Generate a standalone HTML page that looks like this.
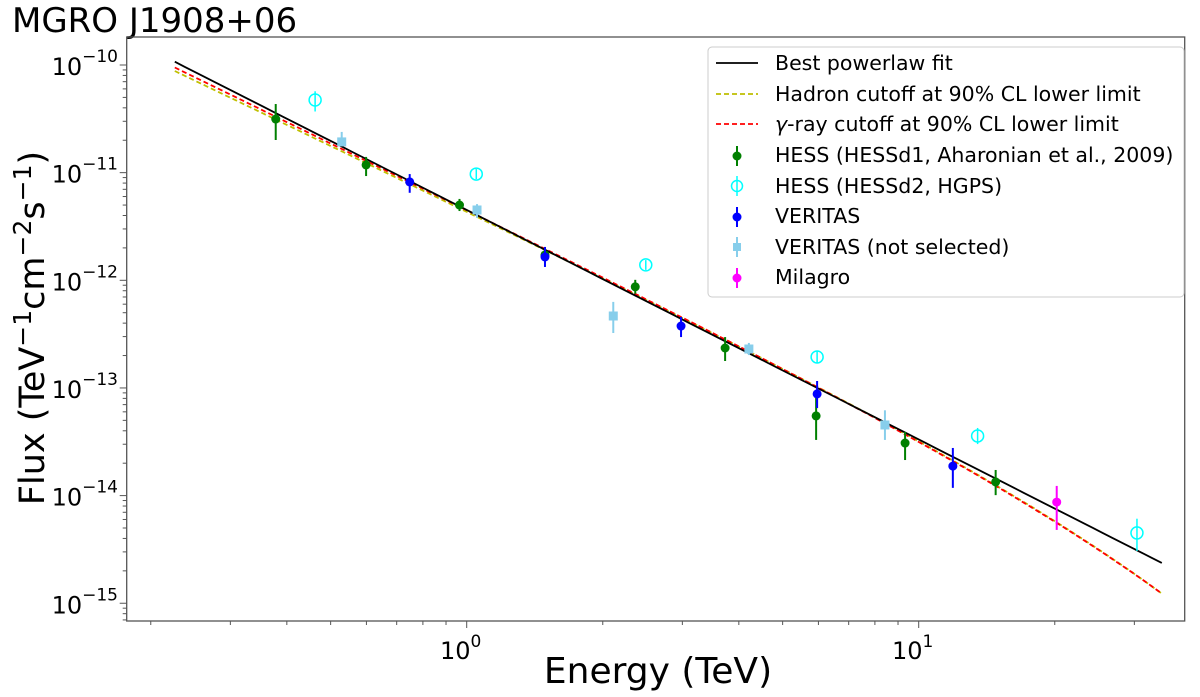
<!DOCTYPE html>
<html><head><meta charset="utf-8"><style>
body{margin:0;background:#fff;}
svg{display:block;font-family:"DejaVu Sans","Liberation Sans",sans-serif;}
</style></head><body>
<svg id="chart" width="1200" height="697" viewBox="0 0 1200 697" xmlns="http://www.w3.org/2000/svg">
<text x="12" y="32" font-size="34">MGRO J1908+06</text>
<rect x="126.7" y="37" width="1058" height="584" fill="none" stroke="#555" stroke-width="1.3"/>
<g id="ticks"></g>
<g id="lines"></g>
<g id="points"></g>
<text x="658" y="683" font-size="36" text-anchor="middle">Energy (TeV)</text>
<text transform="translate(44,328) rotate(-90)" font-size="35" text-anchor="middle">Flux (TeV<tspan dy="-13" font-size="25">−1</tspan><tspan dy="13">cm</tspan><tspan dy="-13" font-size="25">−2</tspan><tspan dy="13">s</tspan><tspan dy="-13" font-size="25">−1</tspan><tspan dy="13">)</tspan></text>
<g>
<rect x="708" y="47" width="476" height="250" rx="4" fill="#fff" fill-opacity="0.85" stroke="#ccc"/>
<line x1="716" y1="63" x2="758" y2="63" stroke="#000" stroke-width="1.8"/>
<text x="775" y="70" font-size="20.5">Best powerlaw fit</text>
<line x1="716" y1="94" x2="758" y2="94" stroke="#bfbf00" stroke-width="1.8" stroke-dasharray="5,3"/>
<text x="775" y="101" font-size="20.5">Hadron cutoff at 90% CL lower limit</text>
<line x1="716" y1="124" x2="758" y2="124" stroke="#ff0000" stroke-width="1.8" stroke-dasharray="5,3"/>
<text x="775" y="131" font-size="20.5"><tspan font-style="italic">γ</tspan>-ray cutoff at 90% CL lower limit</text>
<line x1="737" y1="146" x2="737" y2="166" stroke="#008000" stroke-width="2"/><circle cx="737" cy="156" r="4.5" fill="#008000"/>
<text x="775" y="162" font-size="20.5">HESS (HESSd1, Aharonian et al., 2009)</text>
<line x1="737" y1="176" x2="737" y2="196" stroke="#00ffff" stroke-width="1.5"/><circle cx="737" cy="186" r="5.5" fill="none" stroke="#00ffff" stroke-width="1.5"/>
<text x="775" y="193" font-size="20.5">HESS (HESSd2, HGPS)</text>
<line x1="737" y1="207" x2="737" y2="227" stroke="#0000ff" stroke-width="2"/><circle cx="737" cy="217" r="4.5" fill="#0000ff"/>
<text x="775" y="223" font-size="20.5">VERITAS</text>
<line x1="737" y1="237" x2="737" y2="257" stroke="#87ceeb" stroke-width="2"/><rect x="733" y="243" width="8" height="8" fill="#87ceeb"/>
<text x="775" y="254" font-size="20.5">VERITAS (not selected)</text>
<line x1="737" y1="268" x2="737" y2="288" stroke="#ff00ff" stroke-width="2"/><circle cx="737" cy="278" r="4.5" fill="#ff00ff"/>
<text x="775" y="284" font-size="20.5">Milagro</text>
</g>
</svg>
<script>
// data
const hess1E=[0.378,0.599,0.964,1.49,2.36,3.73,5.93,9.33,14.8];
const hess1F=[3.15e-11,1.18e-11,5.0e-12,1.72e-12,8.7e-13,2.35e-13,5.5e-14,3.08e-14,1.34e-14];
const hess1Hi=[4.34e-11,1.40e-11,5.7e-12,2.04e-12,1.01e-12,2.97e-13,9.2e-14,3.9e-14,1.73e-14];
const hess1Lo=[2.01e-11,9.3e-12,4.4e-12,1.45e-12,7.5e-13,1.78e-13,3.29e-14,2.14e-14,1.01e-14];
const hess2E=[0.462,1.05,2.49,5.96,13.5,30.4];
const hess2F=[4.73e-11,9.7e-12,1.39e-12,1.94e-13,3.58e-14,4.5e-15];
const hess2Hi=[5.7e-11,1.08e-11,1.54e-12,2.2e-13,4.25e-14,6.1e-15];
const hess2Lo=[3.7e-11,8.7e-12,1.25e-12,1.71e-13,3.01e-14,3.06e-15];
const verE=[0.748,1.49,2.98,5.96,11.9];
const verF=[8.2e-12,1.65e-12,3.76e-13,8.8e-14,1.88e-14];
const verHi=[9.7e-12,2.04e-12,4.56e-13,1.16e-13,2.77e-14];
const verLo=[6.5e-12,1.33e-12,2.97e-13,6.5e-14,1.18e-14];
const vnsE=[0.529,1.054,2.11,4.21,8.42];
const vnsF=[1.93e-11,4.5e-12,4.66e-13,2.30e-13,4.53e-14];
const vnsHi=[2.39e-11,5.1e-12,6.3e-13,2.62e-13,6.2e-14];
const vnsLo=[1.77e-11,3.8e-12,3.24e-13,2.02e-13,3.29e-14];
const milE=[20.2];
const milF=[8.7e-15];
const milHi=[1.23e-14];
const milLo=[4.8e-15];
// model parameters: [norm at 1 TeV, index, cutoff TeV]
const plParams=[4.5e-12,2.132,Infinity];
const hadParams=[4.46e-12,2.01,32.0];
const gamParams=[4.61e-12,2.038,34.1];
const modelRange=[0.226,34.5];
const xTickVals=[1,10];
const xTickLabels=["0","1"];
const yTickVals=[-10,-11,-12,-13,-14,-15];

const NS="http://www.w3.org/2000/svg";
const X0=466.7,XD=452,Y0=65,YD=107.65,L=126.7,R=1184.7,T=37,B=621;
function xs(e){return X0+Math.log10(e)*XD;}
function ys(f){return Y0-(Math.log10(f)+10)*YD;}
function mk(tag,at,parent){const el=document.createElementNS(NS,tag);for(const k in at)el.setAttribute(k,at[k]);parent.appendChild(el);return el;}
const tg=document.getElementById('ticks');
for(let d=-1;d<=1;d++)for(let m=1;m<10;m++){const v=m*Math.pow(10,d);const x=xs(v);if(x<L||x>R)continue;
 const t=mk('line',{x1:x,y1:B,x2:x,y2:B+(m===1?7:4),stroke:'#555','stroke-width':1},tg);
 
 }
xTickVals.forEach((v,i)=>{const t=mk('text',{x:xs(v)-6,y:B+38,'font-size':24,'text-anchor':'middle'},tg);
 
 
 t.textContent='10';const s=mk('tspan',{dy:-12,'font-size':17},t);s.textContent=xTickLabels[i];});
for(let d=-16;d<=-10;d++)for(let m=1;m<10;m++){const v=m*Math.pow(10,d);const y=ys(v);if(y<T||y>B)continue;
 const t=mk('line',{x1:L,y1:y,x2:L-(m===1?7:4),y2:y,stroke:'#555','stroke-width':1},tg);
 
 }
yTickVals.forEach(p=>{const y=ys(Math.pow(10,p));const t=mk('text',{x:118,y:y+10,'font-size':24,'text-anchor':'end'},tg);
 
 
 t.textContent='10';const s=mk('tspan',{dy:-13,'font-size':17},t);s.textContent='−'+(-p);});
const lg=document.getElementById('lines');
function model(p,e){return p[0]*Math.pow(e,-p[1])*Math.exp(-e/p[2]);}
function drawModel(p,color,dash,name){let pts=[];for(let i=0;i<=100;i++){const e=modelRange[0]*Math.pow(modelRange[1]/modelRange[0],i/100);pts.push(xs(e).toFixed(1)+','+ys(model(p,e)).toFixed(1));}
 const at={points:pts.join(' '),fill:'none',stroke:color,'stroke-width':1.8};if(dash)at['stroke-dasharray']=dash;
 const el=mk('polyline',at,lg);
 
 }
drawModel(hadParams,'#bfbf00','5,3','hadron-cutoff-line');
drawModel(gamParams,'#ff0000','5,3','gamma-cutoff-line');
drawModel(plParams,'#000','', 'powerlaw-fit-line');
const pg=document.getElementById('points');
function series(E,F,Hi,Lo,color,kind,name){E.forEach((e,i)=>{const g=mk('g',{},pg);
 
 
 const x=xs(e);mk('line',{x1:x,y1:ys(Hi[i]),x2:x,y2:ys(Lo[i]),stroke:color,'stroke-width':kind==='open'?1.5:2},g);
 const y=ys(F[i]);
 if(kind==='open')mk('circle',{cx:x,cy:y,r:6,fill:'none',stroke:color,'stroke-width':1.5},g);
 else if(kind==='square')mk('rect',{x:x-4.5,y:y-4.5,width:9,height:9,fill:color},g);
 else mk('circle',{cx:x,cy:y,r:4.5,fill:color},g);});}
series(vnsE,vnsF,vnsHi,vnsLo,'#87ceeb','square','veritas-ns-point');
series(hess2E,hess2F,hess2Hi,hess2Lo,'#00ffff','open','hess2-point');
series(hess1E,hess1F,hess1Hi,hess1Lo,'#008000','filled','hess1-point');
series(verE,verF,verHi,verLo,'#0000ff','filled','veritas-point');
series(milE,milF,milHi,milLo,'#ff00ff','filled','milagro-point');
</script>
</body></html>
